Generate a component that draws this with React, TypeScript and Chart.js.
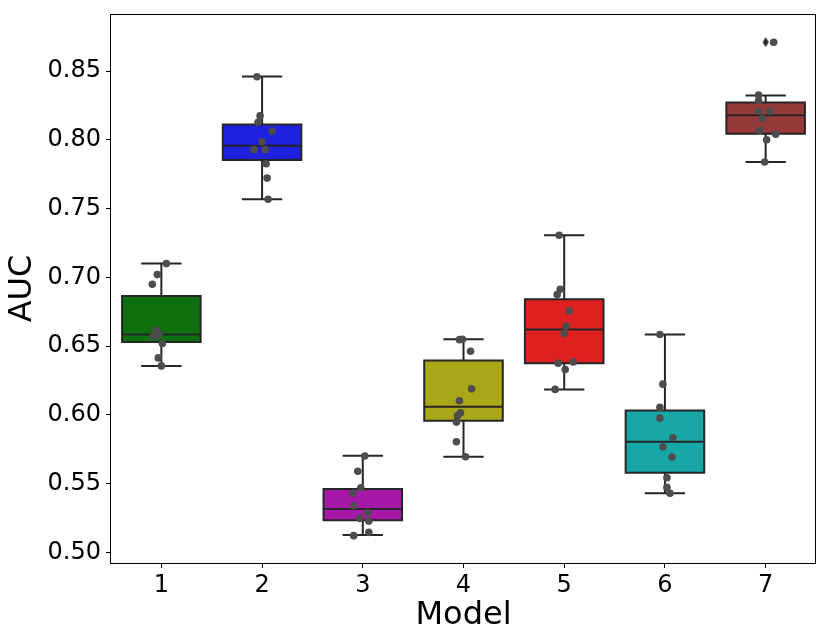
import { useEffect, useRef } from "react"
import { Chart, registerables } from "chart.js"

Chart.register(...registerables)

const models = ["1", "2", "3", "4", "5", "6", "7"]
const boxColors = ["#107010", "#2020df", "#a718a7", "#a7a718", "#df2020", "#18a7a7", "#963939"]
const yTicks = [0.5, 0.55, 0.6, 0.65, 0.7, 0.75, 0.8, 0.85]

// box stats per model
const q1 = [0.653, 0.7853, 0.5233, 0.5956, 0.6376, 0.5579, 0.8045]
const median = [0.6584, 0.7958, 0.5315, 0.6058, 0.662, 0.5804, 0.818]
const q3 = [0.6865, 0.8113, 0.546, 0.6395, 0.6841, 0.6032, 0.8273]
const whiskerLow = [0.6356, 0.7568, 0.5126, 0.5695, 0.6185, 0.5429, 0.7839]
const whiskerHigh = [0.71, 0.8461, 0.5702, 0.655, 0.7306, 0.6584, 0.8323]
const outliersModel7 = [0.8711]

// fold scores per model, with the strip jitter
const aucModel1 = [0.71, 0.702, 0.695, 0.6616, 0.6592, 0.6575, 0.657, 0.6519, 0.6414, 0.6356]
const jitterModel1 = [0.05, -0.04, -0.09, -0.05, -0.02, -0.04, -0.08, 0.01, -0.03, 0.0]
const aucModel2 = [0.846, 0.8176, 0.8129, 0.8064, 0.7987, 0.7929, 0.7929, 0.7827, 0.7722, 0.7568]
const jitterModel2 = [-0.05, -0.02, -0.04, 0.1, 0.0, -0.08, 0.03, 0.04, 0.05, 0.06]
const aucModel3 = [0.57, 0.5589, 0.5469, 0.5431, 0.5339, 0.5288, 0.5247, 0.5227, 0.5145, 0.5121]
const jitterModel3 = [0.02, -0.05, -0.02, -0.1, -0.09, 0.05, -0.03, 0.06, 0.06, -0.09]
const aucModel4 = [0.6547, 0.655, 0.6463, 0.6189, 0.6102, 0.6015, 0.5993, 0.5947, 0.5804, 0.5695]
const jitterModel4 = [-0.04, -0.01, 0.07, 0.08, -0.04, -0.03, -0.06, -0.07, -0.07, 0.02]
const aucModel5 = [0.7306, 0.6913, 0.6875, 0.6756, 0.6645, 0.6592, 0.6376, 0.6385, 0.633, 0.6185]
const jitterModel5 = [-0.05, -0.04, -0.07, 0.05, 0.02, 0.0, -0.06, 0.09, 0.01, -0.09]
const aucModel6 = [0.6584, 0.6223, 0.6054, 0.5976, 0.5833, 0.5767, 0.5693, 0.5542, 0.5472, 0.5429]
const jitterModel6 = [-0.05, -0.02, -0.05, -0.05, 0.08, -0.02, 0.07, 0.02, 0.02, 0.05]
const aucModel7 = [0.8711, 0.8326, 0.8287, 0.8209, 0.8209, 0.8156, 0.8069, 0.8042, 0.8001, 0.7839]
const jitterModel7 = [0.08, -0.07, -0.07, -0.07, 0.04, -0.03, -0.06, 0.1, 0.01, -0.01]

const aucAll = [aucModel1, aucModel2, aucModel3, aucModel4, aucModel5, aucModel6, aucModel7]
const jitterAll = [jitterModel1, jitterModel2, jitterModel3, jitterModel4, jitterModel5, jitterModel6, jitterModel7]

const edgeColor = "#262626"
const FONT = "'DejaVu Sans', sans-serif"

function thinDiamond() {
  const c = document.createElement("canvas")
  c.width = 8
  c.height = 12
  const g = c.getContext("2d")!
  g.fillStyle = edgeColor
  g.beginPath()
  g.moveTo(4, 1)
  g.lineTo(7, 6)
  g.lineTo(4, 11)
  g.lineTo(1, 6)
  g.closePath()
  g.fill()
  return c
}

// whiskers, caps, medians and box outlines, drawn right after the box fills
const boxParts = {
  id: "boxParts",
  afterDatasetDraw(chart: any, args: any) {
    if (args.meta.type !== "bar") return
    const { ctx } = chart
    const x = chart.scales.x
    const y = chart.scales.y
    ctx.save()
    ctx.strokeStyle = edgeColor
    ctx.lineWidth = 2
    models.forEach((_, i) => {
      const c = i + 1
      const mid = x.getPixelForValue(c)
      const capL = x.getPixelForValue(c - 0.2)
      const capR = x.getPixelForValue(c + 0.2)
      const boxL = x.getPixelForValue(c - 0.39)
      const boxR = x.getPixelForValue(c + 0.39)
      const yLo = y.getPixelForValue(whiskerLow[i])
      const yHi = y.getPixelForValue(whiskerHigh[i])
      const yQ1 = y.getPixelForValue(q1[i])
      const yQ3 = y.getPixelForValue(q3[i])
      const yMed = y.getPixelForValue(median[i])
      ctx.beginPath()
      ctx.moveTo(mid, yQ1)
      ctx.lineTo(mid, yLo)
      ctx.moveTo(capL, yLo)
      ctx.lineTo(capR, yLo)
      ctx.moveTo(mid, yQ3)
      ctx.lineTo(mid, yHi)
      ctx.moveTo(capL, yHi)
      ctx.lineTo(capR, yHi)
      ctx.moveTo(boxL, yMed)
      ctx.lineTo(boxR, yMed)
      ctx.rect(boxL, yQ3, boxR - boxL, yQ1 - yQ3)
      ctx.stroke()
    })
    ctx.restore()
  },
  afterDraw(chart: any) {
    const { ctx, chartArea: a } = chart
    ctx.save()
    ctx.strokeStyle = "#000"
    ctx.lineWidth = 1
    ctx.strokeRect(a.left - 0.5, a.top + 0.5, a.right - a.left, a.bottom - a.top)
    ctx.restore()
  },
}

export default function App() {
  const canvasRef = useRef<HTMLCanvasElement>(null)

  useEffect(() => {
    if (!canvasRef.current) return
    const stripPoints = aucAll.flatMap((vals, i) =>
      vals.map((v, j) => ({ x: i + 1 + jitterAll[i][j], y: v }))
    )
    const outlierPoints = outliersModel7.map((v) => ({ x: 7, y: v }))

    const chart = new Chart(canvasRef.current, {
      type: "bar",
      data: {
        datasets: [
          {
            type: "scatter",
            data: stripPoints,
            backgroundColor: "#4d4d4d",
            borderWidth: 0,
            pointRadius: 3.8,
            order: 1,
          } as any,
          {
            type: "scatter",
            data: outlierPoints,
            pointStyle: thinDiamond(),
            pointRadius: 5,
            order: 2,
          } as any,
          {
            type: "bar",
            data: models.map((_, i) => ({ x: i + 1, y: [q1[i], q3[i]] })),
            backgroundColor: boxColors,
            borderWidth: 0,
            barPercentage: 0.78,
            categoryPercentage: 1,
            order: 3,
          } as any,
        ],
      },
      options: {
        animation: false,
        responsive: false,
        events: [],
        layout: { padding: { top: 14, right: 14, left: 0, bottom: 0 } },
        plugins: { legend: { display: false }, tooltip: { enabled: false } },
        scales: {
          x: {
            type: "linear",
            min: 0.5,
            max: 7.5,
            offset: false,
            afterBuildTicks: (s: any) => {
              s.ticks = models.map((_, i) => ({ value: i + 1 }))
            },
            afterFit: (s: any) => {
              s.height = 80
              s.paddingLeft = 0
              s.paddingRight = 0
            },
            ticks: {
              callback: (_v: any, idx: number) => models[idx],
              font: { family: FONT, size: 24 },
              color: "#000",
              padding: 3,
              maxRotation: 0,
            },
            grid: { offset: false, drawOnChartArea: false, tickLength: 5, tickColor: "#000" },
            border: { display: false },
            title: {
              display: true,
              text: "Model",
              font: { family: FONT, size: 32 },
              color: "#000",
              padding: { top: 0, bottom: 8 },
            },
          },
          y: {
            type: "linear",
            min: 0.4922,
            max: 0.8916,
            afterBuildTicks: (s: any) => {
              s.ticks = yTicks.map((v) => ({ value: v }))
            },
            afterFit: (s: any) => {
              s.width = 111
              s.paddingTop = 0
              s.paddingBottom = 0
            },
            ticks: {
              callback: (v: any) => Number(v).toFixed(2),
              font: { family: FONT, size: 24 },
              color: "#000",
              padding: 5,
            },
            grid: { drawOnChartArea: false, tickLength: 5, tickColor: "#000" },
            border: { display: false },
            title: {
              display: true,
              text: "AUC",
              font: { family: FONT, size: 32 },
              color: "#000",
              padding: { top: 3, bottom: 0 },
            },
          },
        },
      } as any,
      plugins: [boxParts],
    })

    return () => chart.destroy()
  }, [])

  return (
    <div style={{ position: "fixed", left: 0, top: 0, width: 830, height: 643, background: "#fff" }}>
      <canvas ref={canvasRef} width={830} height={643} style={{ width: 830, height: 643 }} />
    </div>
  )
}
